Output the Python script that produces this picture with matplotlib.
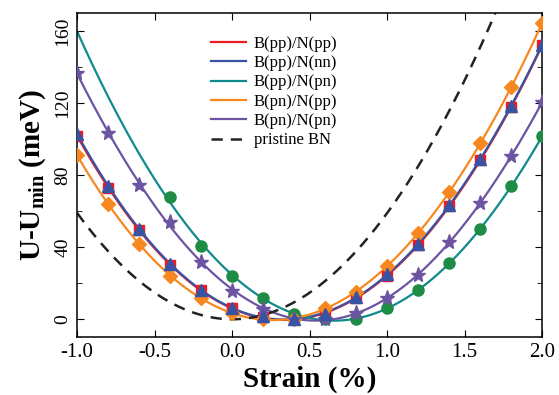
import numpy as np
import matplotlib
matplotlib.use("Agg")
import matplotlib.pyplot as plt
from matplotlib.ticker import MultipleLocator

plt.rcParams['font.family'] = ['Liberation Serif', 'DejaVu Serif']
plt.rcParams['mathtext.default'] = 'regular'

# strain values (%)
strain = [-1.0, -0.8, -0.6, -0.4, -0.2, 0.0, 0.2, 0.4, 0.6, 0.8, 1.0, 1.2, 1.4, 1.6, 1.8, 2.0]

# U - Umin (meV)
pp_pp = [102, 73, 49.4, 30, 16, 6.2, 1.5, 0, 2.5, 11.8, 24.2, 41.4, 62.8, 88.3, 118, 152]
pp_nn = [103, 74, 50, 30.5, 16.5, 6.5, 1.7, 0, 2.8, 12.2, 25, 42, 63.3, 88.8, 118.5, 152.5]
pp_pn = [160, 123, 91, 68, 40.6, 24, 11.6, 2.8, 0.3, 0.2, 6.5, 16, 31, 50, 74, 101.7]
pn_pp = [91, 64, 42, 24, 11.7, 3.4, 0, 0.4, 6.2, 15.3, 29.4, 48, 70.7, 97.6, 128.7, 164.6]
pn_pn = [136.5, 103.6, 74.4, 54, 31.7, 15.8, 5.5, 0.3, 0, 3.6, 12, 24.7, 42.8, 64.3, 90.5, 120.7]
pristine = [59, 38, 21, 9.5, 2.4, 0, 2.4, 9.5, 21, 38, 59, 85, 116, 151, 191, 236]

labels = ['B(pp)/N(pp)', 'B(pp)/N(nn)', 'B(pp)/N(pn)', 'B(pn)/N(pp)', 'B(pn)/N(pn)', 'pristine BN']

fig = plt.figure(figsize=(5.59, 3.95), dpi=100)
ax = fig.add_axes([0.138, 0.146, 0.832, 0.821])

x = np.array(strain)
xs = np.linspace(-1.0, 2.0, 300)


def smooth(vals, deg=4):
    return np.polyval(np.polyfit(x, vals, deg), xs)


# fitted curves + markers
l1, = ax.plot(xs, smooth(pp_pp), color='#ed1c24', lw=1.6, zorder=2)
ax.plot(x, pp_pp, 's', color='#ed1c24', ms=7, zorder=3)
l2, = ax.plot(xs, smooth(pp_nn), color='#3953a4', lw=1.6, zorder=2)
ax.plot(x, pp_nn, '^', color='#3953a4', ms=8.5, zorder=4)
l3, = ax.plot(xs, smooth(pp_pn), color='#0f8b8d', lw=1.6, zorder=2)
ax.plot(x[3:], pp_pn[3:], 'o', color='#1e8c45', ms=8, zorder=3)
l4, = ax.plot(xs, smooth(pn_pp), color='#f7881f', lw=1.6, zorder=2)
ax.plot(x, pn_pp, 'D', color='#f7881f', ms=7, zorder=3)
l5, = ax.plot(xs, smooth(pn_pn), color='#6c54a3', lw=1.6, zorder=2)
ax.plot(x, pn_pn, '*', color='#6c54a3', ms=11, zorder=3)
l6, = ax.plot(xs, smooth(pristine, 2), '--', color='#222222', lw=1.8,
              dashes=(4.5, 3.2), zorder=2)

ax.set_xlim(-1.0, 2.0)
ax.set_ylim(-10, 170)
ax.yaxis.set_major_locator(MultipleLocator(40))
ax.yaxis.set_minor_locator(MultipleLocator(20))
ax.set_xticks([-1.0, -0.5, 0.0, 0.5, 1.0, 1.5, 2.0])
ax.set_xticklabels(['-1.0', '-0.5', '0.0', '0.5', '1.0', '1.5', '2.0'])
ax.tick_params(which='both', direction='in', top=True, right=True)
ax.tick_params(axis='x', labelsize=15, pad=4)
ax.tick_params(axis='y', labelsize=14, pad=4, labelrotation=90)
ax.tick_params(which='major', length=5)
ax.tick_params(which='minor', length=3.5)
for t in ax.get_yticklabels():
    t.set_va('center')
for s in ax.spines.values():
    s.set_linewidth(1.1)

ax.set_xlabel('Strain (%)', fontsize=21, fontweight='bold', labelpad=3)
ax.set_ylabel('U-U$_{min}$ (meV)', fontsize=21, fontweight='bold', labelpad=5)

ax.legend([l1, l2, l3, l4, l5, l6], labels, loc='upper left', bbox_to_anchor=(0.287, 0.93),
          frameon=False, fontsize=12, handlelength=2.1, handletextpad=0.5,
          labelspacing=0.2, borderpad=0, borderaxespad=0)

fig.savefig('out.png', dpi=100)
